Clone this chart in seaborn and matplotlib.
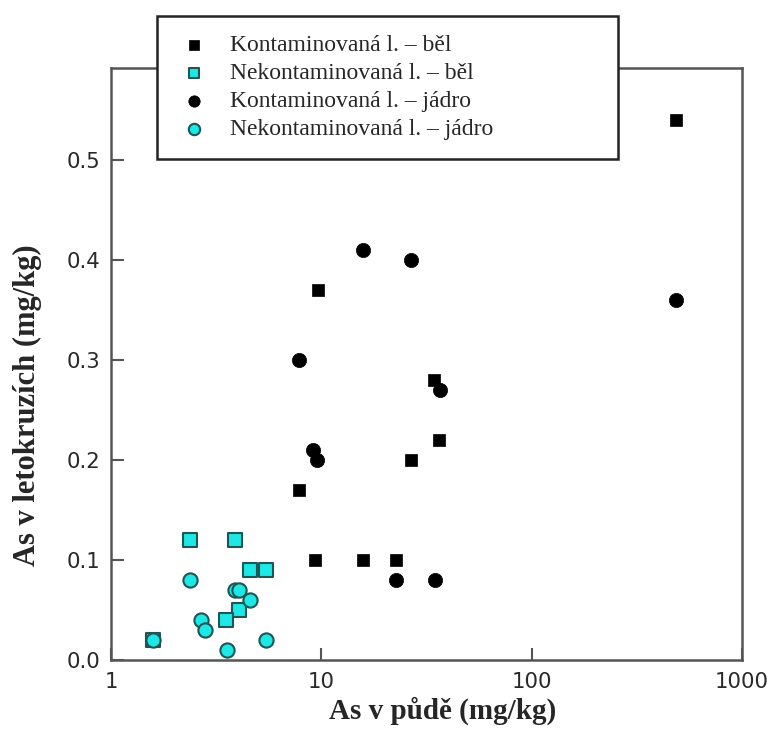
import pandas as pd
import matplotlib.pyplot as plt
import seaborn as sns
import numpy as np

# === Data ===
kont_bel_x = [487, 9.6, 34.3, 36.3, 26.6, 7.8, 9.3, 15.7, 22.6]
kont_bel_y = [0.54, 0.37, 0.28, 0.22, 0.20, 0.17, 0.10, 0.10, 0.10]

nekont_bel_x = [2.37, 3.87, 4.56, 5.43, 4.06, 3.53, 1.59]
nekont_bel_y = [0.12, 0.12, 0.09, 0.09, 0.05, 0.04, 0.02]

kont_jadro_x = [487, 15.7, 26.6, 7.8, 36.5, 9.1, 9.5, 22.6, 34.6]
kont_jadro_y = [0.36, 0.41, 0.40, 0.30, 0.27, 0.21, 0.20, 0.08, 0.08]

nekont_jadro_x = [2.37, 3.87, 4.08, 4.56, 2.69, 2.79, 1.59, 3.56, 5.43]
nekont_jadro_y = [0.08, 0.07, 0.07, 0.06, 0.04, 0.03, 0.02, 0.01, 0.02]

labels = ["Kontaminovaná l. – běl", "Nekontaminovaná l. – běl",
          "Kontaminovaná l. – jádro", "Nekontaminovaná l. – jádro"]

x_ticks = [1, 10, 100, 1000]
x_tick_labels = ["1", "10", "100", "1000"]
y_ticks = [0.0, 0.1, 0.2, 0.3, 0.4, 0.5]

# === Build long table ===
frames = []
for lab, xs, ys in zip(labels,
                       [kont_bel_x, nekont_bel_x, kont_jadro_x, nekont_jadro_x],
                       [kont_bel_y, nekont_bel_y, kont_jadro_y, nekont_jadro_y]):
    frames.append(pd.DataFrame({"soil": xs, "ring": ys, "group": lab}))
df = pd.concat(frames, ignore_index=True)

sns.set_style("ticks")
plt.rcParams["font.family"] = ["DejaVu Sans"]

W, H = 771, 743
fig = plt.figure(figsize=(W / 100, H / 100), dpi=100)
ax = fig.add_axes([111 / W, 83 / H, 631 / W, 592 / H])

cyan = "#1ce8e6"
edge = "#1f5555"
styles = {
    labels[0]: dict(marker="s", color="black", edgecolor="black", s=85, linewidth=0.5),
    labels[1]: dict(marker="s", color=cyan, edgecolor=edge, s=95, linewidth=1.5),
    labels[2]: dict(marker="o", color="black", edgecolor="black", s=105, linewidth=0.5),
    labels[3]: dict(marker="o", color=cyan, edgecolor=edge, s=105, linewidth=1.5),
}

for lab in labels:
    sub = df[df["group"] == lab]
    sns.scatterplot(data=sub, x="soil", y="ring", ax=ax, label=lab,
                    legend=False, zorder=3, **styles[lab])

ax.set_xscale("log")
ax.set_xlim(1, 1000)
ax.set_ylim(0, 0.592)
ax.set_xticks(x_ticks, labels=x_tick_labels)
ax.minorticks_off()
ax.set_yticks(y_ticks, labels=[f"{v:.1f}" for v in y_ticks])

for sp in ax.spines.values():
    sp.set_visible(True)
    sp.set_color("#555555")
    sp.set_linewidth(1.8)

ax.tick_params(axis="both", direction="in", length=9, width=1.5,
               color="#555555", labelsize=15.3, labelcolor="#2a2a2a")
ax.tick_params(axis="x", pad=9)
ax.tick_params(axis="y", pad=8)

serif = ["Liberation Serif", "DejaVu Serif"]
ax.set_xlabel("As v půdě (mg/kg)", fontsize=21, fontweight="bold", family=serif)
ax.set_ylabel("As v letokruzích (mg/kg)", fontsize=22, fontweight="bold", family=serif)
ax.xaxis.set_label_coords(0.526, -0.061)
ax.yaxis.set_label_coords(-0.109, 0.43)

# === Legend sits above the axes frame ===
handles, labs = ax.get_legend_handles_labels()
leg = ax.legend(handles, labs, loc="upper left",
                bbox_to_anchor=(157 / W, 1 - 16 / H - 0.01, 461 / W, 0.01),
                bbox_transform=fig.transFigure, mode="expand",
                borderaxespad=0,
                prop={"family": serif, "size": 17}, frameon=True,
                fancybox=False, edgecolor="#222222", framealpha=1,
                borderpad=0.8, labelspacing=0.27, handlelength=1.5,
                handletextpad=0.81, markerscale=0.8)
leg.get_frame().set_linewidth(1.8)
leg.set_zorder(5)

fig.savefig("out.png", dpi=100)
